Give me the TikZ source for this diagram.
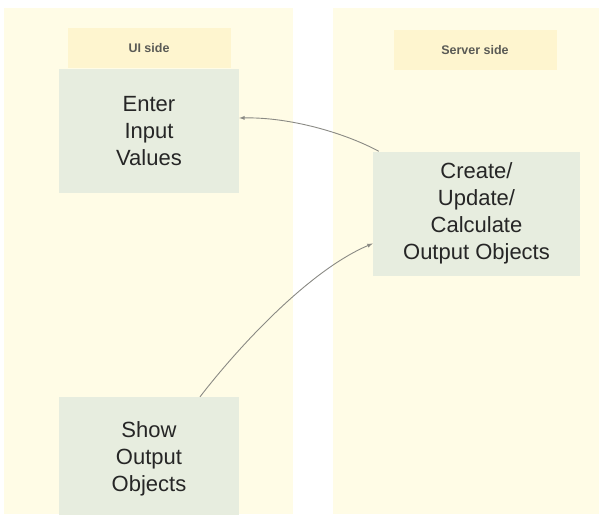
\documentclass[tikz,border=0pt]{standalone}
\usepackage{fontspec}
\setmainfont{Liberation Sans}
\definecolor{laneYellow}{HTML}{FFFCE6}
\definecolor{headYellow}{HTML}{FEF5CF}
\definecolor{boxGreen}{HTML}{E7EDDF}
\definecolor{lineGrey}{HTML}{8A8A84}
\definecolor{headText}{HTML}{5A5A55}
\begin{document}
\begin{tikzpicture}[x=1pt,y=-1pt]

  \tikzstyle{lane}=[fill=laneYellow,draw=none]

  \tikzstyle{header}=[shape=rectangle,fill=headYellow,minimum width=163pt,minimum height=40pt,inner sep=0pt,font=\fontsize{12.5}{14}\selectfont\bfseries,text=headText]

  \tikzstyle{task}=[shape=rectangle,fill=boxGreen,minimum width=180pt,minimum height=124pt,inner sep=2pt,align=center,font=\fontsize{22}{27}\selectfont,text=black!85]

  \tikzstyle{lineDecorate}=[-latex,draw=lineGrey,line width=0.9pt]

\useasboundingbox (0,0) rectangle (599,514);
\clip (0,0) rectangle (599,514);

%% swimlanes
\fill[lane] (4,8) rectangle (293,514);
\fill[lane] (333,8) rectangle (599,514);

%% headers
\node (UI)[header] at (149,48) {UI side};
\node (SV)[header] at (475,50) {Server side};

%% nodes or vertices
\node (A)[task] at (149,131) {Enter\\Input\\Values};
\node (B)[task, minimum width=207pt] at (476.5,213.5) {Create/\\Update/\\Calculate\\Output Objects};
\node (C)[task] at (149,459) {Show\\Output\\Objects};

%% edges or lines
\path[lineDecorate]
	([xshift=6pt]B.north west) .. controls (345,133) and (290,117) .. ([yshift=13pt]A.east);

\path[lineDecorate]
	([xshift=51pt]C.north) .. controls (240,345) and (310,270) .. ([yshift=-30pt]B.west);

\end{tikzpicture}
\end{document}
